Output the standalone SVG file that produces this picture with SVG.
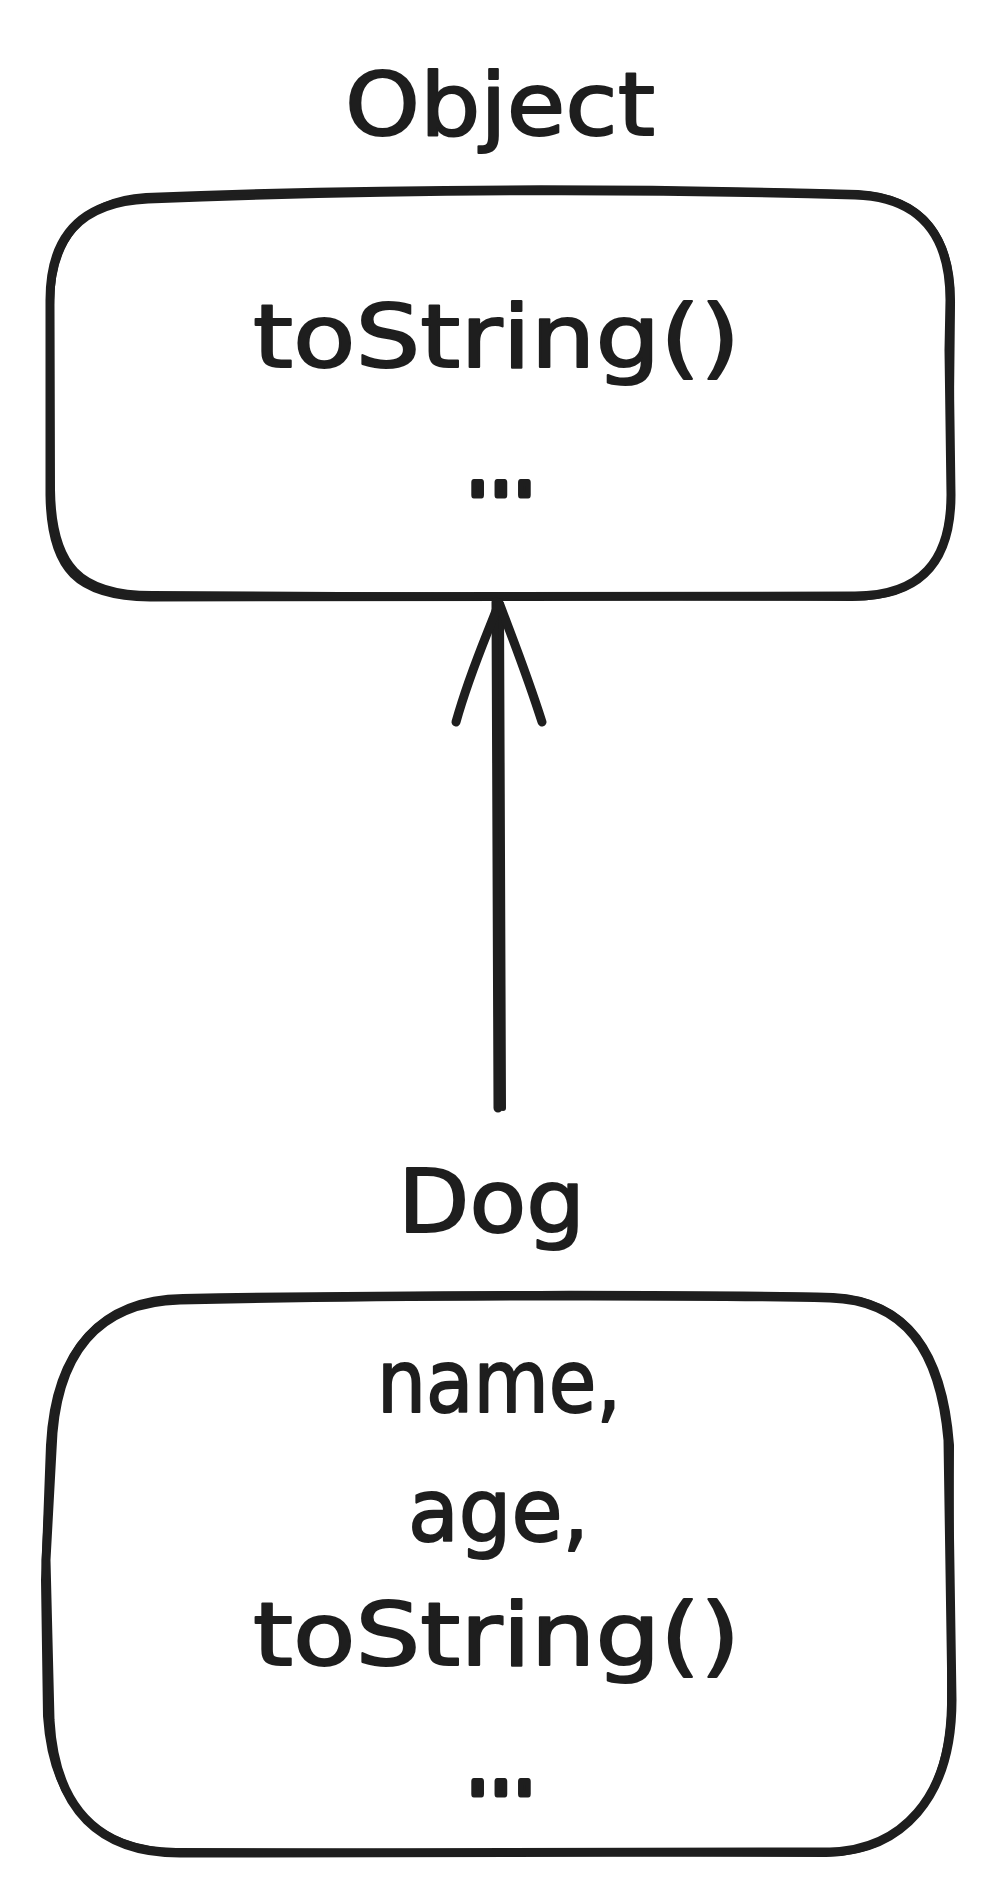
<svg xmlns="http://www.w3.org/2000/svg" width="1000" height="1896" viewBox="0 0 1000 1896">
  <style>
    .bg { fill: #ffffff; }
    .edge { fill: none; stroke: #1e1e1e; stroke-width: 9; stroke-linecap: round; stroke-linejoin: round; }
    .edge2 { fill: none; stroke: #1e1e1e; stroke-width: 6; stroke-linecap: round; stroke-linejoin: round; }
    .lbl { font-family: "DejaVu Sans", "Noto Sans", sans-serif; font-size: 88px; fill: #1e1e1e; stroke: #1e1e1e; stroke-width: 2; stroke-linejoin: round; }
    .dots { font-family: "DejaVu Sans", "Noto Sans", sans-serif; font-size: 100px; fill: #1e1e1e; stroke: #1e1e1e; stroke-width: 7; stroke-linejoin: round; }
  </style>
  <rect class="bg" x="0" y="0" width="1000" height="1896"/>

  <g id="node-object">
    <path class="edge" d="M 148 199 C 400 189, 650 189, 855 195 C 925 197, 950 240, 950 300 L 949 350 L 951 495 C 951 562, 920 596, 855 596 L 150 597 C 78 596, 51 570, 50 495 L 50 300 C 50 240, 78 202, 148 199 Z"/>
    <path class="edge2" d="M 146 196 C 400 186, 650 187, 858 193 C 928 197, 953 243, 952 305 L 950 495 C 950 565, 918 598, 852 598 L 152 594 C 80 594, 53 566, 52 490 L 51 305 C 51 243, 80 200, 146 196 Z"/>
    <text class="lbl" x="345" y="135" textLength="310" lengthAdjust="spacingAndGlyphs">Object</text>
    <text class="lbl" x="253" y="367" textLength="487" lengthAdjust="spacingAndGlyphs">toString()</text>
    <text class="dots" x="466" y="495" textLength="70" lengthAdjust="spacingAndGlyphs">...</text>
  </g>

  <g id="node-dog">
    <path class="edge" d="M 180 1300 C 400 1295, 700 1295, 830 1298 C 905 1300, 940 1350, 948 1440 L 952 1700 C 952 1800, 900 1850, 830 1852 L 180 1853 C 100 1853, 55 1810, 50 1720 L 46 1560 L 52 1450 C 55 1350, 100 1302, 180 1300 Z"/>
    <path class="edge2" d="M 183 1297 C 400 1293, 700 1293, 833 1296 C 908 1300, 944 1352, 951 1445 L 950 1705 C 948 1805, 898 1852, 826 1854 L 176 1851 C 98 1850, 52 1806, 46 1716 L 44 1580 L 49 1445 C 54 1348, 102 1298, 183 1297 Z"/>
    <text class="lbl" x="398" y="1232" textLength="187" lengthAdjust="spacingAndGlyphs">Dog</text>
    <text class="lbl" x="377" y="1412" textLength="244" lengthAdjust="spacingAndGlyphs">name,</text>
    <text class="lbl" x="408" y="1541" textLength="181" lengthAdjust="spacingAndGlyphs">age,</text>
    <text class="lbl" x="253" y="1665" textLength="487" lengthAdjust="spacingAndGlyphs">toString()</text>
    <text class="dots" x="466" y="1794" textLength="70" lengthAdjust="spacingAndGlyphs">...</text>
  </g>

  <g id="connectors">
    <path class="edge" d="M 498 1108 L 496 602"/>
    <path class="edge2" d="M 503 1108 L 501 604"/>
    <path class="edge" d="M 456 722 C 470 672, 485 640, 499 603"/>
    <path class="edge" d="M 542 722 C 526 672, 513 640, 500 605"/>
  </g>
</svg>
